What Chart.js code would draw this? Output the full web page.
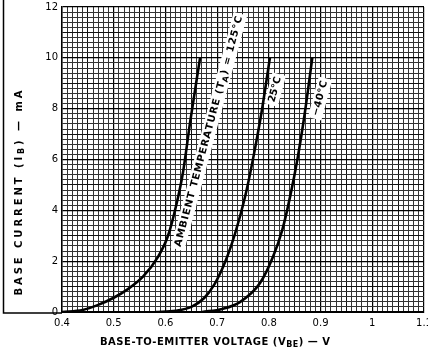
<!DOCTYPE html>
<html>
<head>
<meta charset="utf-8">
<script src="https://cdn.jsdelivr.net/npm/chart.js@4.4.1/dist/chart.umd.min.js"></script>
<style>
  html, body { margin: 0; padding: 0; background: #fff; }
</style>
</head>
<body>
<canvas id="chart" width="428" height="353"></canvas>
<script>
// --- DATA (V_BE in volts, I_B in mA) ---
const vbe125 = [0.400, 0.440, 0.470, 0.500, 0.526, 0.557, 0.585, 0.605, 0.622, 0.634, 0.648, 0.667];
const ib125  = [0.00, 0.08, 0.28, 0.56, 0.88, 1.40, 2.15, 3.00, 4.30, 5.50, 7.50, 10.0];
const vbe25  = [0.580, 0.620, 0.650, 0.675, 0.695, 0.712, 0.727, 0.742, 0.757, 0.772, 0.787, 0.802];
const ib25   = [0.00, 0.05, 0.20, 0.55, 1.10, 1.80, 2.60, 3.60, 4.80, 6.30, 8.00, 10.0];
const vbeM40 = [0.671, 0.710, 0.744, 0.783, 0.808, 0.826, 0.841, 0.856, 0.870, 0.884];
const ibM40  = [0.00, 0.12, 0.39, 1.14, 2.17, 3.23, 4.53, 6.10, 7.90, 10.0];

const xTickLabels = ['0.4', '0.5', '0.6', '0.7', '0.8', '0.9', '1', '1.1'];
const yTickLabels = ['0', '2', '4', '6', '8', '10', '12'];

// curve labels, anchored in data units
const curveLabels = [
  { runs: [{ t: 'AMBIENT TEMPERATURE (T' }, { t: 'A', sub: true }, { t: ') = 125°C' }], v: 0.684, i: 7.1, len: 238 },
  { runs: [{ t: '25°C' }], v: 0.812, i: 8.75, len: 26 },
  { runs: [{ t: '−40°C' }], v: 0.899, i: 8.4, len: 36 }
];

const toXY = (xs, ys) => xs.map((x, k) => ({ x: x, y: ys[k] }));

// --- helper: draw text runs spread to a given length, centred on 0,0 ---
function drawRuns(ctx, runs, len, size) {
  const font = `bold ${size}px "DejaVu Sans"`;
  const subFont = `bold ${size - 2}px "DejaVu Sans"`;
  let natural = 0, count = 0;
  runs.forEach(r => {
    ctx.font = r.sub ? subFont : font;
    for (const ch of r.t) { natural += ctx.measureText(ch).width; count++; }
  });
  const gap = count > 1 ? (len - natural) / (count - 1) : 0;
  let x = -len / 2;
  ctx.textBaseline = 'middle';
  ctx.textAlign = 'left';
  runs.forEach(r => {
    ctx.font = r.sub ? subFont : font;
    for (const ch of r.t) {
      ctx.fillText(ch, x, r.sub ? 3 : 0);
      x += ctx.measureText(ch).width + gap;
    }
  });
}

const annotate = {
  id: 'annotate',
  beforeDatasetsDraw(chart) {
    const ctx = chart.ctx;
    const sx = chart.scales.x, sy = chart.scales.y;
    curveLabels.forEach(l => {
      ctx.save();
      ctx.translate(sx.getPixelForValue(l.v), sy.getPixelForValue(l.i));
      ctx.rotate(-75 * Math.PI / 180);
      ctx.fillStyle = '#fff';
      ctx.fillRect(-l.len / 2 - 3, -7, l.len + 6, 14);
      ctx.fillStyle = '#000';
      drawRuns(ctx, l.runs, l.len, 10);
      ctx.restore();
    });
  },
  afterDraw(chart) {
    const ctx = chart.ctx;
    const area = chart.chartArea;
    ctx.save();
    ctx.fillStyle = '#000';
    // x title
    ctx.save();
    ctx.translate(215, 342);
    drawRuns(ctx, [{ t: 'BASE-TO-EMITTER VOLTAGE (V' }, { t: 'BE', sub: true }, { t: ') — V' }], 230, 10);
    ctx.restore();
    // y title
    ctx.save();
    ctx.translate(19, 193);
    ctx.rotate(-Math.PI / 2);
    drawRuns(ctx, [{ t: 'BASE CURRENT (I' }, { t: 'B', sub: true }, { t: ') — mA' }], 205, 10);
    ctx.restore();
    // outer frame
    ctx.strokeStyle = '#000';
    ctx.lineWidth = 1.5;
    ctx.beginPath();
    ctx.moveTo(3.5, 0);
    ctx.lineTo(3.5, area.bottom + 1);
    ctx.lineTo(area.left, area.bottom + 1);
    ctx.stroke();
    ctx.restore();
  }
};

const lineStyle = {
  borderColor: '#000',
  borderWidth: 2.6,
  pointRadius: 0,
  fill: false,
  cubicInterpolationMode: 'monotone'
};

new Chart(document.getElementById('chart'), {
  type: 'line',
  data: {
    datasets: [
      Object.assign({ label: '125°C', data: toXY(vbe125, ib125) }, lineStyle),
      Object.assign({ label: '25°C', data: toXY(vbe25, ib25) }, lineStyle),
      Object.assign({ label: '-40°C', data: toXY(vbeM40, ibM40) }, lineStyle)
    ]
  },
  options: {
    responsive: false,
    animation: false,
    devicePixelRatio: 1,
    layout: { padding: { top: 7, right: 4, left: 0, bottom: 0 } },
    plugins: { legend: { display: false }, tooltip: { enabled: false } },
    scales: {
      x: {
        type: 'linear',
        min: 0.4,
        max: 1.1,
        ticks: {
          stepSize: 0.01,
          maxTicksLimit: 200,
          autoSkip: false,
          maxRotation: 0,
          padding: 5,
          color: '#000',
          font: { family: 'DejaVu Sans', size: 10 },
          callback: v => {
            const k = Math.round(v * 100);
            return k % 10 === 0 ? xTickLabels[(k - 40) / 10] : '';
          }
        },
        grid: {
          drawTicks: false,
          color: c => {
            const k = Math.round(c.tick.value * 100);
            return k % 10 === 0 ? '#000' : (k % 5 === 0 ? '#111' : '#333');
          },
          lineWidth: c => {
            const k = Math.round(c.tick.value * 100);
            return k % 10 === 0 ? 1.2 : 1;
          }
        },
        border: { display: true, color: '#000', width: 2 },
        afterFit: s => { s.height = 41; s.paddingLeft = 0; s.paddingRight = 0; }
      },
      y: {
        type: 'linear',
        min: 0,
        max: 12,
        ticks: {
          stepSize: 0.2,
          maxTicksLimit: 100,
          autoSkip: false,
          padding: 4,
          color: '#000',
          font: { family: 'DejaVu Sans', size: 10 },
          callback: v => {
            const k = Math.round(v * 10);
            return k % 20 === 0 ? yTickLabels[k / 20] : '';
          }
        },
        grid: {
          drawTicks: false,
          color: c => {
            const k = Math.round(c.tick.value * 10);
            return k % 20 === 0 ? '#000' : (k % 10 === 0 ? '#111' : '#333');
          },
          lineWidth: c => {
            const k = Math.round(c.tick.value * 10);
            return k % 20 === 0 ? 1.2 : 1;
          }
        },
        border: { display: true, color: '#000', width: 1.5 },
        afterFit: s => { s.width = 62; s.paddingTop = 0; s.paddingBottom = 0; }
      }
    }
  },
  plugins: [annotate]
});
</script>
</body>
</html>
